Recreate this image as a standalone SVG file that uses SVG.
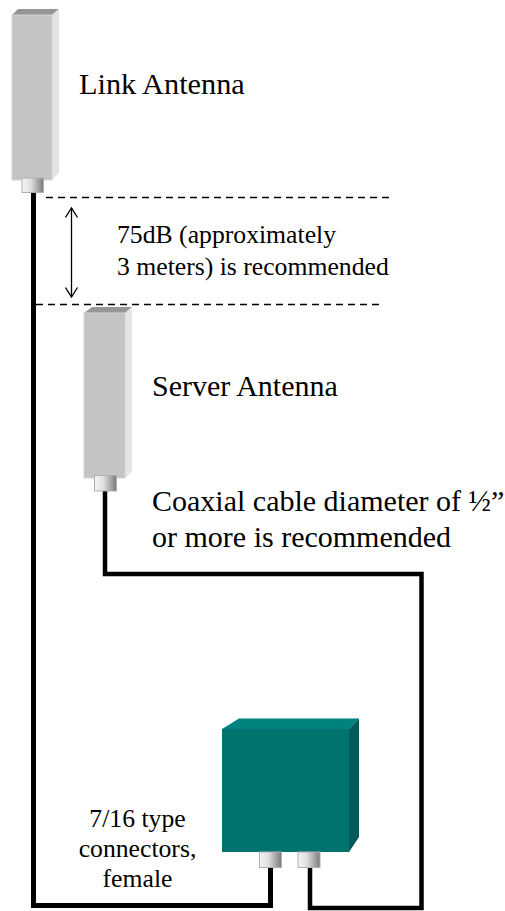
<svg xmlns="http://www.w3.org/2000/svg" width="505" height="911" viewBox="0 0 505 911">
<defs>
<linearGradient id="conn" x1="0" x2="1" y1="0" y2="0"><stop offset="0" stop-color="#f4f4f4"/><stop offset="0.4" stop-color="#e0e0e0"/><stop offset="1" stop-color="#7a7a7a"/></linearGradient>
<marker id="open" viewBox="0 0 14 14" refX="11" refY="7" markerWidth="14" markerHeight="14" markerUnits="userSpaceOnUse" orient="auto-start-reverse"><path d="M1.500 1 L11 7 L1.500 13" fill="none" stroke="#000" stroke-width="1.300"/></marker>
</defs>
<style>
.t{font-family:"Liberation Serif","Times New Roman",serif;fill:#000}
.a{font-size:30px}.l{font-size:30.300px}.b{font-size:25.700px}
.front{fill:#c4c4c4;stroke:#d4d4d4;stroke-width:1}
.side{fill:#e4e4e4}.top{fill:#969696}
.c{fill:url(#conn);stroke:#b0b0b0;stroke-width:1}
.w{fill:none;stroke:#000;stroke-linejoin:miter}
.d{fill:none;stroke:#000;stroke-width:1.300;stroke-dasharray:7 5}
</style>
<g id="connectors">
<path class="w" stroke-width="5" d="M33.500 192V905.500H270.500V866"/>
<path class="w" stroke-width="4.500" d="M105 491V574H421.500V908H310V866"/>
<path class="d" d="M46 197.500H390"/>
<path class="d" d="M36 304.500H382"/>
<path fill="none" stroke="#000" stroke-width="1.300" marker-start="url(#open)" marker-end="url(#open)" d="M71.500 208V297"/>
</g>
<g id="link-antenna">
<polygon class="top" points="12,15 18,9 59,9 52,15"/>
<polygon class="side" points="52,15 59,9 59,173 52,180"/>
<rect class="front" x="12" y="15" width="40" height="165"/>
<rect class="c" x="22" y="178" width="21.500" height="14.500"/>
<text class="t l" x="79" y="93.500">Link Antenna</text>
</g>
<g id="server-antenna">
<polygon class="top" points="84,313 92,307 132,307 125,313"/>
<polygon class="side" points="125,313 132,307 132,472 125,478"/>
<rect class="front" x="84" y="313" width="41" height="165"/>
<rect class="c" x="94.500" y="475.500" width="22" height="15.500"/>
<text class="t a" x="152" y="396">Server Antenna</text>
</g>
<g id="radio-box">
<polygon points="222,729 239,718.500 359,718.500 349,729" fill="#00827f"/>
<polygon points="349,729 359,718.500 359,837 349,852" fill="#005a57"/>
<rect x="222" y="729" width="127" height="123" fill="#00736f"/>
<rect class="c" x="259.500" y="852" width="22" height="15.500"/>
<rect class="c" x="298" y="852" width="22" height="15.500"/>
</g>
<g id="labels">
<text class="t b" x="117" y="243">75dB (approximately</text>
<text class="t b" x="117" y="274.500">3 meters) is recommended</text>
<text class="t a" x="152" y="511">Coaxial cable diameter of ½”</text>
<text class="t a" x="152" y="547">or more is recommended</text>
<text class="t b" text-anchor="middle" x="137.500" y="826.500">7/16 type</text>
<text class="t b" text-anchor="middle" x="137.500" y="856.500">connectors,</text>
<text class="t b" text-anchor="middle" x="137.500" y="886.500">female</text>
</g>
</svg>
